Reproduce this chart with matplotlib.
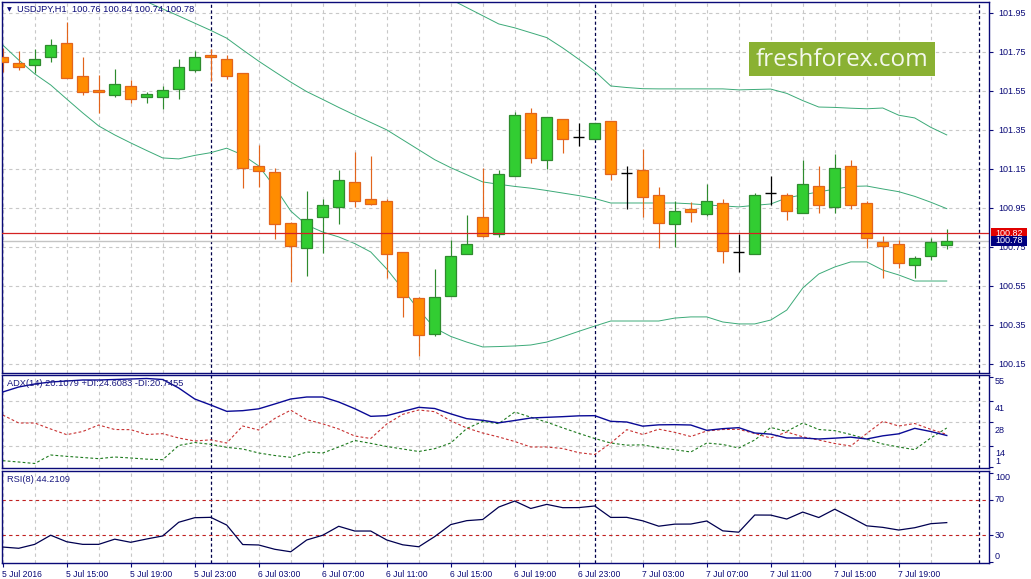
import numpy as np
import matplotlib
matplotlib.use("Agg")
import matplotlib.pyplot as plt
from matplotlib.patches import Rectangle
from matplotlib.transforms import ScaledTranslation

plt.rcParams['font.family'] = ['Liberation Sans', 'DejaVu Sans']

# USDJPY H1, 5 Jul 11:00 .. 7 Jul 22:00
opens = [101.723, 101.692, 101.680, 101.723, 101.793, 101.624, 101.554, 101.530, 101.573, 101.519,
         101.519, 101.560, 101.658, 101.733, 101.711, 101.641, 101.162, 101.133, 100.870, 100.742,
         100.901, 100.952, 101.080, 100.995, 100.984, 100.723, 100.487, 100.301, 100.499, 100.711,
         100.901, 100.814, 101.111, 101.434, 101.193, 101.403, 101.313, 101.301, 101.393, 101.130,
         101.142, 101.014, 100.865, 100.942, 100.919, 100.973, 100.723, 100.711, 101.024, 101.014,
         100.921, 101.060, 100.952, 101.162, 100.973, 100.773, 100.762, 100.655, 100.701, 100.76]
highs = [101.769, 101.754, 101.764, 101.815, 101.904, 101.723, 101.631, 101.661, 101.605, 101.542,
         101.574, 101.711, 101.755, 101.762, 101.733, 101.641, 101.270, 101.152, 100.878, 101.036,
         100.993, 101.143, 101.237, 101.217, 100.995, 100.723, 100.494, 100.636, 100.784, 100.913,
         101.152, 101.143, 101.441, 101.460, 101.414, 101.403, 101.383, 101.385, 101.393, 101.164,
         101.250, 101.058, 100.983, 100.979, 101.072, 100.993, 100.815, 101.024, 101.114, 101.024,
         101.193, 101.164, 101.225, 101.193, 100.983, 100.804, 100.783, 100.701, 100.793, 100.84]
lows = [101.646, 101.656, 101.639, 101.699, 101.614, 101.528, 101.437, 101.519, 101.488, 101.488,
        101.458, 101.509, 101.647, 101.600, 101.610, 101.053, 101.056, 100.791, 100.570, 100.601,
        100.719, 100.865, 100.952, 100.964, 100.588, 100.391, 100.190, 100.294, 100.499, 100.711,
        100.801, 100.801, 101.111, 101.181, 101.150, 101.232, 101.268, 101.298, 101.090, 100.942,
        100.901, 100.742, 100.750, 100.878, 100.909, 100.665, 100.622, 100.711, 100.962, 100.889,
        100.921, 100.921, 100.921, 100.942, 100.742, 100.591, 100.642, 100.591, 100.680, 100.74]
closes = [101.699, 101.670, 101.711, 101.783, 101.614, 101.542, 101.542, 101.584, 101.509, 101.532,
          101.552, 101.670, 101.721, 101.721, 101.627, 101.152, 101.140, 100.865, 100.752, 100.891,
          100.962, 101.092, 100.983, 100.971, 100.711, 100.490, 100.296, 100.490, 100.701, 100.762,
          100.803, 101.123, 101.424, 101.203, 101.414, 101.301, 101.313, 101.383, 101.121, 101.130,
          101.003, 100.870, 100.932, 100.929, 100.983, 100.730, 100.723, 101.014, 101.024, 100.932,
          101.070, 100.962, 101.152, 100.962, 100.793, 100.752, 100.665, 100.691, 100.773, 100.78]

bb_upper = [102.80, 102.78, 102.76, 102.73, 102.70, 102.67, 102.64, 102.61, 102.58, 102.55,
            102.52, 102.50, 102.48, 102.46, 102.42, 102.38, 102.34, 102.31, 102.28, 102.26,
            102.24, 102.23, 102.22, 102.20, 102.17, 102.14, 102.10, 102.06, 102.018, 101.976,
            101.934, 101.892, 101.872, 101.847, 101.822, 101.769, 101.711, 101.650, 101.574, 101.566,
            101.560, 101.559, 101.559, 101.559, 101.559, 101.559, 101.554, 101.556, 101.558, 101.536,
            101.499, 101.466, 101.464, 101.460, 101.457, 101.461, 101.424, 101.410, 101.362, 101.323]
bb_mid = [102.29, 102.26, 102.23, 102.20, 102.17, 102.14, 102.11, 102.08, 102.043, 102.006,
          101.969, 101.933, 101.896, 101.859, 101.819, 101.759, 101.701, 101.647, 101.594, 101.545,
          101.505, 101.464, 101.425, 101.387, 101.349, 101.298, 101.247, 101.196, 101.155, 101.119,
          101.082, 101.070, 101.059, 101.050, 101.038, 101.025, 101.012, 100.997, 100.974, 100.974,
          100.974, 100.974, 100.974, 100.970, 100.964, 100.959, 100.954, 100.962, 100.969, 101.000,
          101.016, 101.031, 101.045, 101.059, 101.061, 101.046, 101.032, 101.008, 100.978, 100.945]
bb_lower = [101.784, 101.707, 101.636, 101.579, 101.507, 101.436, 101.369, 101.323, 101.282, 101.243,
            101.205, 101.200, 101.218, 101.232, 101.255, 101.220, 101.164, 101.056, 100.933, 100.861,
            100.825, 100.800, 100.766, 100.723, 100.636, 100.533, 100.425, 100.333, 100.290, 100.261,
            100.236, 100.238, 100.241, 100.246, 100.261, 100.288, 100.316, 100.343, 100.369, 100.369,
            100.369, 100.369, 100.384, 100.390, 100.390, 100.364, 100.354, 100.354, 100.374, 100.425,
            100.538, 100.610, 100.646, 100.672, 100.672, 100.630, 100.605, 100.574, 100.574, 100.574]

adx = [46.2, 49.2, 51.0, 52.2, 52.8, 53.4, 53.4, 53.7, 54.0, 54.3,
       53.7, 48.6, 42.0, 38.4, 34.6, 35.0, 36.1, 39.0, 42.0, 43.2,
       43.2, 40.2, 36.2, 31.6, 32.0, 34.5, 37.0, 36.3, 33.1, 30.2,
       29.2, 27.7, 29.1, 30.6, 31.0, 31.4, 31.9, 32.0, 28.6, 28.2,
       25.7, 26.5, 26.6, 26.4, 23.2, 24.2, 24.8, 21.6, 20.9, 18.6,
       18.6, 18.0, 18.5, 19.1, 18.0, 19.9, 21.1, 24.4, 22.5, 20.11]
plus_di = [5.0, 4.2, 3.3, 8.4, 7.6, 6.9, 6.2, 7.2, 6.6, 5.9,
           5.6, 14.1, 15.9, 14.8, 13.0, 12.0, 9.6, 8.1, 7.0, 10.2,
           9.6, 13.2, 17.1, 15.4, 13.5, 12.0, 10.5, 12.2, 15.6, 24.3,
           28.5, 27.2, 34.2, 31.1, 28.1, 24.7, 21.4, 18.3, 15.6, 14.3,
           14.5, 12.7, 11.6, 10.2, 15.6, 14.7, 12.6, 17.4, 24.9, 22.6,
           27.6, 23.7, 23.0, 20.7, 17.9, 15.0, 13.2, 11.6, 18.6, 24.61]
minus_di = [32.4, 27.6, 27.6, 24.0, 20.6, 22.5, 26.4, 23.7, 23.6, 20.7,
            21.2, 18.6, 16.8, 17.5, 15.6, 25.8, 23.4, 30.3, 35.3, 29.6,
            27.1, 24.0, 19.8, 18.3, 27.0, 32.8, 35.4, 34.4, 28.9, 24.6,
            21.6, 19.2, 16.5, 13.2, 13.2, 12.3, 9.8, 8.7, 15.5, 23.6,
            20.7, 23.9, 22.0, 19.5, 22.8, 23.7, 23.8, 21.3, 18.6, 22.2,
            19.3, 17.4, 15.3, 13.8, 21.3, 28.6, 25.8, 27.3, 23.8, 20.75]
rsi = [16.9, 15.5, 19.9, 30.1, 22.8, 19.9, 19.9, 25.7, 22.2, 25.9,
       29.3, 44.6, 49.7, 50.1, 41.5, 19.7, 19.2, 14.4, 11.6, 24.8,
       30.1, 40.1, 34.8, 34.8, 24.8, 19.4, 17.2, 28.6, 42.0, 46.4,
       47.7, 61.6, 68.3, 60.0, 64.6, 60.9, 61.0, 62.8, 50.0, 50.1,
       46.2, 40.2, 42.5, 42.6, 46.0, 35.0, 33.5, 52.7, 52.6, 48.2,
       56.0, 49.9, 59.2, 50.1, 40.6, 38.9, 35.9, 38.5, 43.0, 44.21]

time_labels = ["5 Jul 2016", "5 Jul 15:00", "5 Jul 19:00", "5 Jul 23:00", "6 Jul 03:00",
               "6 Jul 07:00", "6 Jul 11:00", "6 Jul 15:00", "6 Jul 19:00", "6 Jul 23:00",
               "7 Jul 03:00", "7 Jul 07:00", "7 Jul 11:00", "7 Jul 15:00", "7 Jul 19:00"]
day_breaks = [13, 37, 61]
ask_price = 100.82
bid_price = closes[-1]

NAVY = '#0A0A78'
GRID = '#C8C8C8'
W, H = 1031, 579


def box(l, t, r, b):
    return [l / W, 1 - b / H, (r - l) / W, (b - t) / H]


fig = plt.figure(figsize=(W / 100, H / 100), dpi=100)
ax = fig.add_axes(box(2, 1.5, 989, 372.5))
ax2 = fig.add_axes(box(2, 375, 989, 468))
ax3 = fig.add_axes(box(2, 471, 989, 563))

x = np.arange(len(opens))
o, h, l, c = map(np.array, (opens, highs, lows, closes))
xlim = (-0.044, 61.64)

for a in (ax, ax2, ax3):
    a.set_xlim(*xlim)
    for s in a.spines.values():
        s.set_color(NAVY)
        s.set_linewidth(1.0)
    a.set_xticks(range(0, 57, 4))
    a.set_xticks(range(2, 62, 4), minor=True)
    a.grid(True, axis='x', which='both', color=GRID, ls=(0, (3, 3)), lw=0.8, zorder=0)
    a.tick_params(axis='x', which='both', length=0, labelbottom=False)
    a.yaxis.tick_right()
    a.tick_params(axis='y', length=3, color=NAVY, labelcolor=NAVY, labelsize=6.5)
    for d in day_breaks:
        a.axvline(d, color='#00004A', ls=(0, (2.5, 2)), lw=0.9, zorder=1)
    a.set_axisbelow(True)

# ---- price panel
ax.set_ylim(100.105, 102.007)
pt = np.arange(100.15, 101.96, 0.2)
ax.set_yticks(pt, [f"{v:.2f}" for v in pt])
ax.grid(True, axis='y', color=GRID, ls=(0, (3, 3)), lw=0.8)

band_col = '#3CAA78'
for band in (bb_upper, bb_mid, bb_lower):
    ax.plot(x, band, color=band_col, lw=0.7, zorder=1.5)

ax.axhline(bid_price, color='#C4C4C4', lw=1.0, zorder=1.6)

bull = c > o
bear = c < o
doji = c == o
bull_edge, bear_edge = '#2E8B2E', '#E2641C'
ax.vlines(x[bull], l[bull], h[bull], color=bull_edge, lw=0.85, zorder=2)
ax.vlines(x[bear], l[bear], h[bear], color=bear_edge, lw=0.85, zorder=2)
ax.vlines(x[doji], l[doji], h[doji], color='black', lw=0.9, zorder=2)
ax.bar(x[bull], (c - o)[bull], bottom=o[bull], width=0.66, color='#32CD32',
       edgecolor=bull_edge, lw=0.9, zorder=3)
ax.bar(x[bear], (o - c)[bear], bottom=c[bear], width=0.66, color='#FF8C00',
       edgecolor=bear_edge, lw=0.9, zorder=3)
ax.hlines(o[doji], x[doji] - 0.33, x[doji] + 0.33, color='black', lw=1.0, zorder=3)

ax.axhline(ask_price, color='#D42222', lw=0.9, zorder=4)

ytr = ax.get_yaxis_transform()
for price, col in ((ask_price, '#E00000'), (bid_price, '#000080')):
    ax.add_patch(Rectangle((1.0025, price - 0.0245), 0.0365, 0.049, transform=ytr,
                           facecolor=col, edgecolor='none', clip_on=False, zorder=5))
    ax.text(1.0207, price, f"{price:.2f}", transform=ytr, ha='center', va='center',
            color='white', fontsize=6.5, zorder=6, clip_on=False)

fig.text(7 / W, 1 - 10 / H, '\u25BC', fontsize=4.5, color=NAVY, va='center',
         family='DejaVu Sans')
fig.text(17 / W, 1 - 9.7 / H, 'USDJPY,H1  100.76 100.84 100.74 100.78',
         fontsize=6.7, color=NAVY, va='center')

fig.patches.append(Rectangle((749 / W, 1 - 75.7 / H), 186 / W, 33.7 / H,
                             transform=fig.transFigure, facecolor='#8AB133',
                             edgecolor='none', zorder=5))
fig.text(842.5 / W, 1 - 59.5 / H, 'freshforex.com', fontsize=17.5, color='#F4F8EC',
         family='Open Sans', ha='center', va='center', zorder=6)


def side_labels(a, vals, offsets_px):
    tr = a.get_yaxis_transform()
    a.set_yticks(vals, [''] * len(vals))
    for v, off in zip(vals, offsets_px):
        a.text(1, v, str(v), transform=tr + ScaledTranslation(6 / 100, -off / 100, fig.dpi_scale_trans),
               ha='left', va='center', fontsize=6.5, color=NAVY, clip_on=False)


# ---- ADX panel
ax2.set_ylim(0.6, 56.4)
for g in (41, 28, 14):
    ax2.axhline(g, color=GRID, ls=(0, (3, 3)), lw=0.8, zorder=0)
ax2.plot(x, adx, color='#0A0A96', lw=1.0, zorder=3)
ax2.plot(x, plus_di, color='#1E7B1E', lw=0.8, ls=(0, (2.5, 2)), zorder=2)
ax2.plot(x, minus_di, color='#C83232', lw=0.8, ls=(0, (2.5, 2)), zorder=2)
side_labels(ax2, [55, 41, 28, 14, 1], [4.5, 7.7, 8.4, 7.7, -6.3])
fig.text(7 / W, 1 - 384 / H, 'ADX(14) 20.1079 +DI:24.6083 -DI:20.7455',
         fontsize=6.7, color='#1A1A80', va='center')

# ---- RSI panel
ax3.set_ylim(-0.94, 101.9)
for lev in (70, 30):
    ax3.axhline(lev, color='#C02020', ls=(0, (3, 3)), lw=0.8, zorder=1)
ax3.plot(x, rsi, color='#000050', lw=0.9, zorder=3)
side_labels(ax3, [100, 70, 30, 0], [4.4, 0, 0, -5.5])
fig.text(7 / W, 1 - 480 / H, 'RSI(8) 44.2109', fontsize=6.7, color='#1A1A80', va='center')

ax3.set_xticks(range(0, 57, 4), time_labels, ha='left', fontsize=6.2, color=NAVY)
ax3.tick_params(axis='x', which='major', length=3, color=NAVY, labelbottom=True, pad=2)
ax3.tick_params(axis='x', which='minor', length=0)
for lbl in ax3.get_xticklabels():
    lbl.set_transform(lbl.get_transform() + ScaledTranslation(-1 / 100, 0, fig.dpi_scale_trans))

fig.savefig('out.png', dpi=100, facecolor='white')
